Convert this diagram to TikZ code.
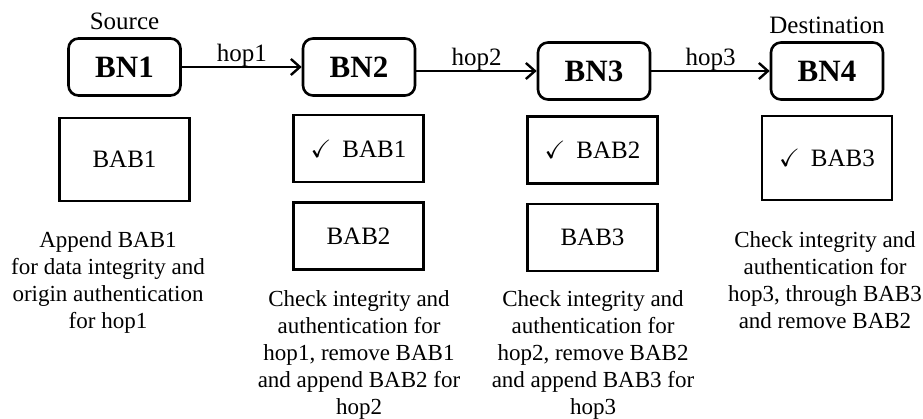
\documentclass[tikz,border=0pt]{standalone}
\usepackage{fontspec}
\usepackage{amssymb}
\setmainfont{Liberation Serif}
\usetikzlibrary{arrows.meta}

\tikzset{
	bn/.style={draw, line width=2.6pt, rounded corners=10pt, minimum width=112pt, minimum height=57pt, font=\fontsize{31}{31}\selectfont\bfseries},
	bab/.style={draw, line width=2.6pt, minimum width=130pt, font=\fontsize{25}{25}\selectfont},
	beschr/.style={align=center, inner sep=0pt, anchor=north, font=\fontsize{23}{27}\selectfont},
	hop/.style={line width=2.4pt, -{Straight Barb[length=9pt,width=16pt]}},
	hoplabel/.style={anchor=base, yshift=5pt, inner sep=0pt, font=\fontsize{25}{25}\selectfont},
	rolle/.style={anchor=base, yshift=8pt, inner sep=0pt, font=\fontsize{25}{25}\selectfont}
}
\newcommand{\haken}{{\fontsize{25}{25}\selectfont$\checkmark$}\hspace{11pt}}

\begin{document}
\begin{tikzpicture}[x=1pt, y=-1pt]
	\useasboundingbox (0,0) rectangle (923,419);
	
	% Knoten
	\draw (124.5,67) node[bn] (BN1) {BN1};
	\draw (359,67) node[bn] (BN2) {BN2};
	\draw (594,71) node[bn] (BN3) {BN3};
	\draw (827,71) node[bn] (BN4) {BN4};
	\draw (BN1.north) node[rolle] (src) {Source};
	\draw (BN4.north) node[rolle] (dst) {Destination};
	
	% Hops
	\draw[hop] (BN1.east) -- (BN2.west) node[hoplabel, midway] {hop1};
	\draw[hop] (BN2.east |- BN3.west) -- (BN3.west) node[hoplabel, midway] {hop2};
	\draw[hop] (BN3.east) -- (BN4.west) node[hoplabel, midway] {hop3};
	
	% BABs
	\draw (124.5,159.5) node[bab, minimum height=83pt] (BAB1a) {BAB1};
	\draw (358.5,148.5) node[bab, minimum height=67pt] (BAB1b) {\haken BAB1};
	\draw (358.5,236) node[bab, minimum height=67pt] (BAB2a) {BAB2};
	\draw (592.5,150) node[bab, minimum height=67pt] (BAB2b) {\haken BAB2};
	\draw (592.5,237.5) node[bab, minimum height=67pt] (BAB3a) {BAB3};
	\draw (827,158) node[bab, minimum height=84pt] (BAB3b) {\haken BAB3};
	
	% Beschreibungen
	\draw (108,231) node[beschr] (txt1) {Append BAB1\\for data integrity and\\origin authentication\\for hop1};
	\draw (359,290) node[beschr] (txt2) {Check integrity and\\authentication for\\hop1, remove BAB1\\and append BAB2 for\\hop2};
	\draw (593,290) node[beschr] (txt3) {Check integrity and\\authentication for\\hop2, remove BAB2\\and append BAB3 for\\hop3};
	\draw (825,231) node[beschr] (txt4) {Check integrity and\\authentication for\\hop3, through BAB3\\and remove BAB2};
\end{tikzpicture}
\end{document}
